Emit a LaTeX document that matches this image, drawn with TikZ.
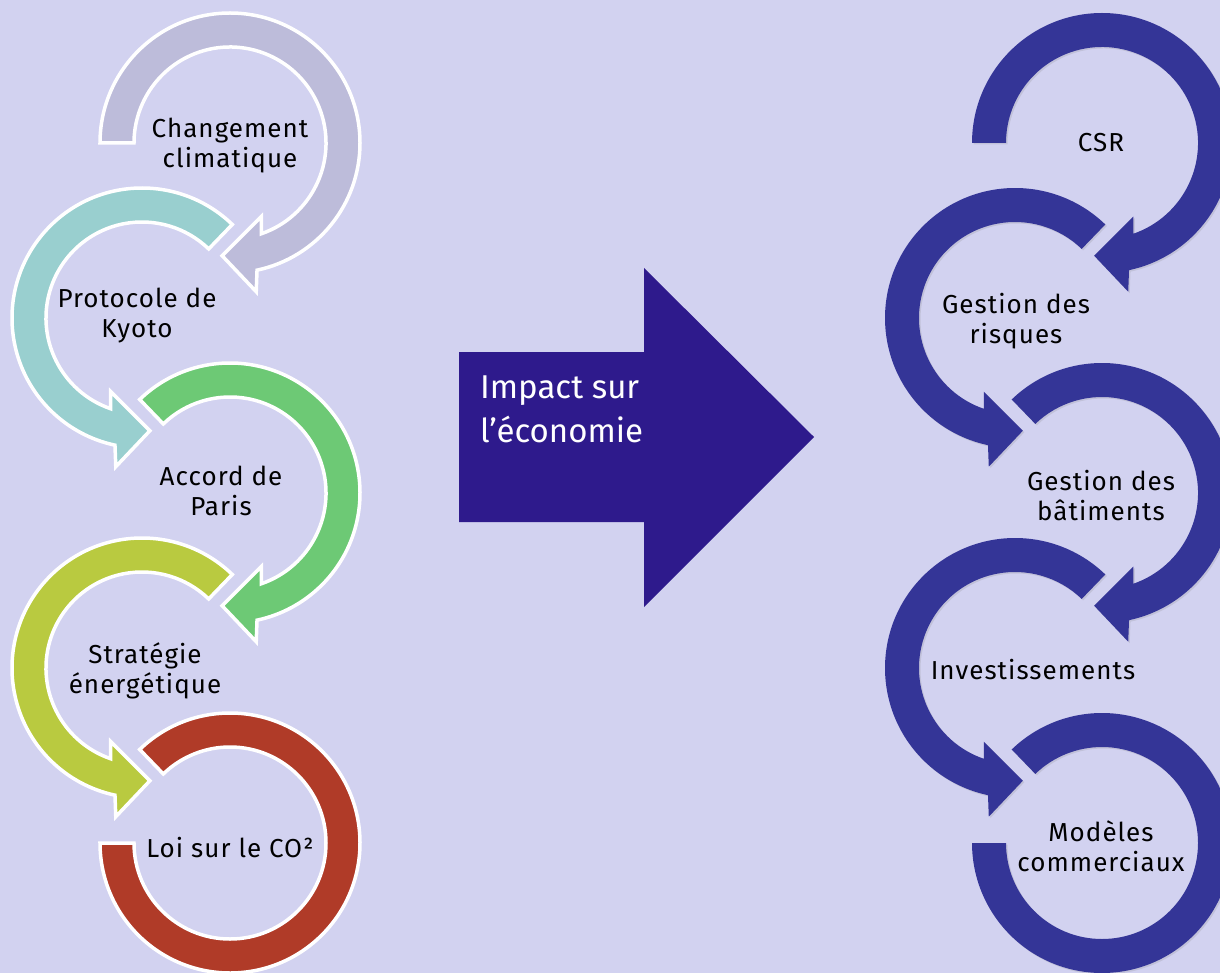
\documentclass[tikz,border=0pt]{standalone}
\usepackage{fontspec}
\setmainfont{Fira Sans}
\newfontfamily\ringfont[LetterSpace=4]{Fira Sans}
\usetikzlibrary{shadows}

\definecolor{bgcol}{HTML}{D2D2F0}
\definecolor{greycol}{HTML}{BDBCDA}
\definecolor{tealcol}{HTML}{99CFCF}
\definecolor{greencol}{HTML}{6DC975}
\definecolor{olivecol}{HTML}{B9CA40}
\definecolor{redcol}{HTML}{B03B28}
\definecolor{bluecol}{HTML}{343597}
\definecolor{arrowcol}{HTML}{2E1A8C}

\def\firstring{(180:130) arc[start angle=180,end angle=-78,radius=130] -- (-80:151) -- (-94:113) -- (-67:80) -- (-71:96) arc[start angle=-71,end angle=180,radius=96] -- cycle}
\def\midring{(134:130) arc[start angle=134,end angle=-78,radius=130] -- (-80:151) -- (-94:113) -- (-67:80) -- (-71:96) arc[start angle=-71,end angle=134,radius=96] -- cycle}
\def\lastring{(134:130) arc[start angle=134,end angle=-180,radius=130] -- (180:96) arc[start angle=-180,end angle=134,radius=96] -- cycle}

\begin{document}
\begin{tikzpicture}[x=1pt,y=1pt,
    ring/.style={draw=white,line width=3.5pt,line join=miter},
    bluering/.style={fill=bluecol,drop shadow={opacity=0.2,shadow xshift=1.5pt,shadow yshift=-1.5pt}},
    ringtext/.style={font=\ringfont\fontsize{26}{30}\selectfont,align=center,text=black,inner sep=0pt}]
    \fill[bgcol] (0,0) rectangle (1220,-973);
    \useasboundingbox (0,0) rectangle (1220,-973);

    \begin{scope}[shift={(230,-843)}]
        \filldraw[ring,fill=redcol] \lastring;
    \end{scope}
    \begin{scope}[shift={(142,-668)}, xscale=-1]
        \filldraw[ring,fill=olivecol] \midring;
    \end{scope}
    \begin{scope}[shift={(230,-493)}]
        \filldraw[ring,fill=greencol] \midring;
    \end{scope}
    \begin{scope}[shift={(142,-318)}, xscale=-1]
        \filldraw[ring,fill=tealcol] \midring;
    \end{scope}
    \begin{scope}[shift={(230,-143)}]
        \filldraw[ring,fill=greycol] \firstring;
    \end{scope}

    \begin{scope}[shift={(1102,-843)}]
        \fill[bluering] \lastring;
    \end{scope}
    \begin{scope}[shift={(1015,-668)}, xscale=-1]
        \fill[bluering] \midring;
    \end{scope}
    \begin{scope}[shift={(1102,-493)}]
        \fill[bluering] \midring;
    \end{scope}
    \begin{scope}[shift={(1015,-318)}, xscale=-1]
        \fill[bluering] \midring;
    \end{scope}
    \begin{scope}[shift={(1102,-143)}]
        \fill[bluering] \firstring;
    \end{scope}

    \fill[arrowcol] (459,-352) -- (644,-352) -- (644,-268) -- (814,-437) -- (644,-607) -- (644,-522) -- (459,-522) -- cycle;
    \node[anchor=base west,align=left,inner sep=0pt,text=white,font=\fontsize{33}{44}\selectfont] (impact) at (480,-442) {Impact sur\\l’économie};

    \node[ringtext] (climat) at (230,-146) {Changement\\climatique};
    \node[ringtext] (kyoto) at (137,-316) {Protocole de\\Kyoto};
    \node[ringtext] (paris) at (221,-491) {Accord de\\Paris};
    \node[ringtext] (strategie) at (145,-671) {Stratégie\\énergétique};
    \node[ringtext] (loi) at (230,-848) {Loi sur le CO²};

    \node[ringtext] (csr) at (1101,-143) {CSR};
    \node[ringtext] (risques) at (1016,-321) {Gestion des\\risques};
    \node[ringtext] (batiments) at (1101,-496) {Gestion des\\bâtiments};
    \node[ringtext] (invest) at (1033,-670) {Investissements};
    \node[ringtext] (modeles) at (1101,-846) {Modèles\\commerciaux};
\end{tikzpicture}
\end{document}
